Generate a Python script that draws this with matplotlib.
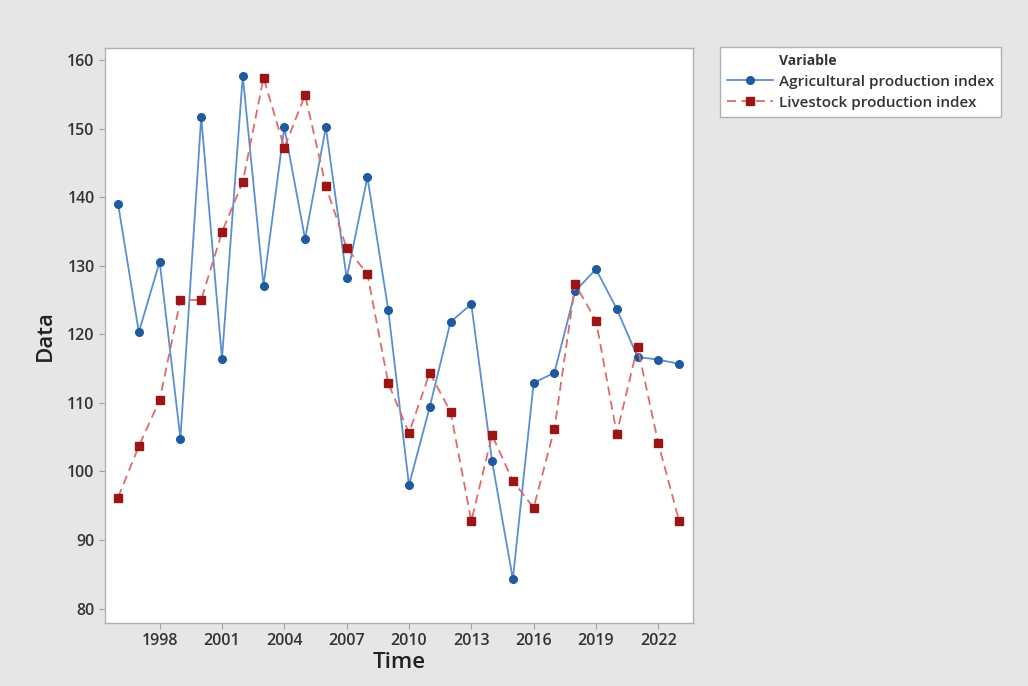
import numpy as np
import matplotlib
matplotlib.use("Agg")
from matplotlib import pyplot as plt
from matplotlib.lines import Line2D

plt.rcParams['font.family'] = ['Open Sans', 'DejaVu Sans']

# region Data
years = list(range(1996, 2024))
agricultural = [139.0, 120.3, 130.6, 104.8, 151.7, 116.4, 157.7, 127.1, 150.2, 133.9,
                150.2, 128.2, 142.9, 123.6, 98.0, 109.4, 121.8, 124.4, 101.5, 84.3,
                112.9, 114.4, 126.3, 129.5, 123.7, 116.7, 116.3, 115.7]
livestock = [96.2, 103.7, 110.4, 125.0, 125.0, 134.9, 142.2, 157.4, 147.2, 154.9,
             141.6, 132.6, 128.8, 112.9, 105.6, 114.4, 108.7, 92.8, 105.3, 98.6,
             94.7, 106.2, 127.3, 122.0, 105.5, 118.2, 104.1, 92.8]
x_ticks = [1998, 2001, 2004, 2007, 2010, 2013, 2016, 2019, 2022]
y_ticks = [80, 90, 100, 110, 120, 130, 140, 150, 160]
# endregion

fig = plt.figure(figsize=(10.28, 6.86), dpi=100)
fig.patch.set_facecolor('#e6e6e6')
ax = fig.add_axes([105 / 1028, 1 - 623 / 686, (693 - 105) / 1028, (623 - 48) / 686])
ax.set_facecolor('white')

l1, = ax.plot(years, agricultural, '-', color='#5a8fd0', lw=1.3, marker='o', ms=5.5,
              mfc='#1f5a9e', mec='#1f5a9e', label='Agricultural production index', zorder=3)
l2, = ax.plot(years, livestock, '--', color='#e06a6a', lw=1.3, dashes=(5, 3), marker='s', ms=5.5,
              mfc='#9b1515', mec='#9b1515', label='Livestock production index', zorder=3)

ax.set_xlim(1995.37, 2023.67)
ax.set_ylim(77.9, 161.75)
ax.set_xticks(x_ticks)
ax.set_yticks(y_ticks)
ax.tick_params(axis='both', direction='out', length=4, color='#a0a0a0',
               labelsize=11.5, labelcolor='#333333')
for lab in ax.get_xticklabels() + ax.get_yticklabels():
    lab.set_fontweight('semibold')
for s in ax.spines.values():
    s.set_color('#b0b0b0')
    s.set_linewidth(1.0)

ax.set_xlabel('Time', fontsize=16, color='#222222', labelpad=2, fontweight='semibold')
ax.set_ylabel('Data', fontsize=16, color='#222222', labelpad=8, fontweight='semibold')

# region Legend with the "Variable" header aligned with the entry text
header = Line2D([], [], linestyle='none')
leg = fig.legend([header, l1, l2], ['Variable', l1.get_label(), l2.get_label()],
                 loc='upper left', bbox_to_anchor=(720 / 1028, 1 - 47 / 686),
                 fontsize=11, frameon=True, fancybox=False, edgecolor='#b0b0b0',
                 framealpha=1, handlelength=3.0, borderpad=0.45, labelspacing=0.45,
                 handletextpad=0.4, borderaxespad=0)
texts = leg.get_texts()
texts[0].set_fontweight('bold')
texts[0].set_fontsize(10)
for t in texts:
    t.set_color('#333333')
for t in texts[1:]:
    t.set_fontweight('semibold')
# endregion

fig.savefig('out.png', dpi=100, facecolor=fig.get_facecolor())
